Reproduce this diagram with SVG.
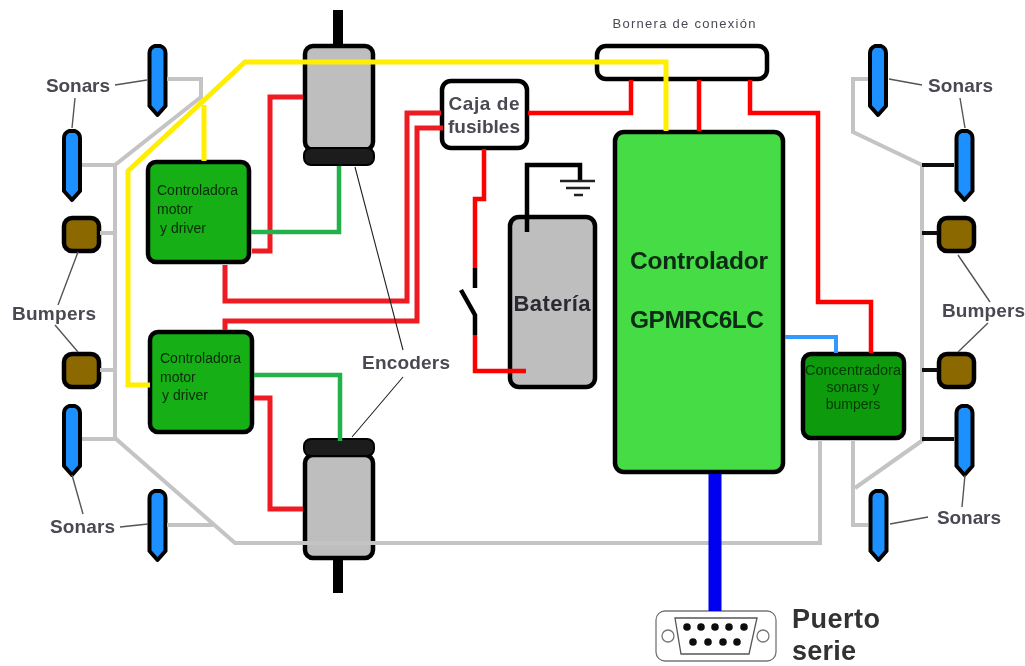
<svg xmlns="http://www.w3.org/2000/svg" width="1025" height="666" viewBox="0 0 1025 666">
<style>
.blk{stroke:#000;stroke-width:4.500;stroke-linejoin:round}
.w{fill:none;stroke-linejoin:miter}
.red{stroke:#ee1c24;stroke-width:5}
.rd2{stroke:#ff0000;stroke-width:4.500}
.yel{stroke:#ffee00;stroke-width:5}
.gry{stroke:#c4c4c4;stroke-width:4}
.grn{stroke:#22b14c;stroke-width:4.500}
.bk{stroke:#0a0a0a;stroke-width:4}
.lead{fill:none;stroke:#555;stroke-width:1.400}
.enc{fill:none;stroke:#222;stroke-width:1.100}
text{font-family:"Liberation Sans",Arial,sans-serif}
.lbl{font-size:19px;font-weight:bold;fill:#4a4a52}
.ctl{font-size:14px;fill:#0a2a0a}
.con{font-size:14px;fill:#043a04}
.big{font-size:24.500px;font-weight:bold;fill:#0d2a12}
.so{fill:#1e90ff}
.bu{fill:#8b6800}
</style>
<defs>
<path id="sonar" d="M-3 0H3Q8 2 8 7V60L0 69L-8 60V7Q-8 2-3 0Z" stroke="#000" stroke-width="4" stroke-linejoin="round"/>
<rect id="bump" width="35" height="33" rx="8" class="blk"/>
<filter id="soft" x="0" y="0" width="100%" height="100%"><feGaussianBlur stdDeviation="0.55"/></filter>
</defs>
<g filter="url(#soft)">
<rect width="1025" height="666" fill="#fff"/>
<g id="sonars">
<g id="sonar-tl1"><use href="#sonar" x="157.500" y="46" class="so"/></g>
<g id="sonar-tl2"><use href="#sonar" x="72" y="131" class="so"/></g>
<g id="sonar-bl1"><use href="#sonar" x="72" y="406" class="so"/></g>
<g id="sonar-bl2"><use href="#sonar" x="157.500" y="491" class="so"/></g>
<g id="sonar-tr1"><use href="#sonar" x="878" y="46" class="so"/></g>
<g id="sonar-tr2"><use href="#sonar" x="964.500" y="131" class="so"/></g>
<g id="sonar-br1"><use href="#sonar" x="964.500" y="406" class="so"/></g>
<g id="sonar-br2"><use href="#sonar" x="878.500" y="491" class="so"/></g>
</g>
<g id="bumpers">
<g id="bumper-l1"><use href="#bump" x="64" y="218" class="bu"/></g>
<g id="bumper-l2"><use href="#bump" x="64" y="354" class="bu"/></g>
<g id="bumper-r1"><use href="#bump" x="939" y="218" class="bu"/></g>
<g id="bumper-r2"><use href="#bump" x="939" y="354" class="bu"/></g>
</g>
<g id="motor-top">
<rect x="333" y="10" width="10" height="36" fill="#000"/>
<rect x="305" y="46" width="68" height="104" rx="8" fill="#bebebe" class="blk"/>
<rect x="304" y="148" width="70" height="17" rx="7" fill="#1a1a1a" stroke="#000" stroke-width="2"/>
</g>
<g id="motor-bottom">
<rect x="333" y="556" width="10" height="37" fill="#000"/>
<rect x="305" y="455" width="68" height="103" rx="8" fill="#bebebe" class="blk"/>
<rect x="304" y="439" width="70" height="17" rx="7" fill="#1a1a1a" stroke="#000" stroke-width="2"/>
</g>
<g id="driver-1">
<rect x="148" y="162" width="101" height="100" rx="8" fill="#14b014" class="blk"/>
<text class="ctl" x="157" y="195" textLength="81" lengthAdjust="spacingAndGlyphs">Controladora</text>
<text class="ctl" x="157" y="214">motor</text>
<text class="ctl" x="160" y="233">y driver</text>
</g>
<g id="driver-2">
<rect x="150" y="332" width="102" height="100" rx="8" fill="#14b014" class="blk"/>
<text class="ctl" x="160" y="363" textLength="81" lengthAdjust="spacingAndGlyphs">Controladora</text>
<text class="ctl" x="160" y="382">motor</text>
<text class="ctl" x="162" y="400">y driver</text>
</g>
<g id="caja">
<rect x="442" y="81" width="85" height="67" rx="9" fill="#fff" class="blk"/>
<text class="lbl" x="484" y="110" text-anchor="middle" textLength="71">Caja de</text>
<text class="lbl" x="484" y="133" text-anchor="middle" textLength="72">fusibles</text>
</g>
<g id="bornera">
<rect x="597" y="46" width="170" height="33" rx="9" fill="#fff" class="blk"/>
<text x="684" y="28" text-anchor="middle" font-size="13" fill="#4a4a52" textLength="143">Bornera de conexión</text>
</g>
<g id="bateria">
<rect x="510" y="217" width="85" height="170" rx="9" fill="#bebebe" class="blk"/>
<text x="552" y="311" text-anchor="middle" textLength="77" font-size="22" font-weight="bold" fill="#2a2a32">Batería</text>
</g>
<g id="controlador">
<rect x="615" y="132" width="168" height="340" rx="9" fill="#44dc44" class="blk"/>
<text class="big" x="699" y="269" text-anchor="middle" textLength="138">Controlador</text>
<text class="big" x="697" y="328" text-anchor="middle" textLength="134">GPMRC6LC</text>
</g>
<g id="concentradora">
<rect x="803" y="354" width="101" height="84" rx="8" fill="#0b9a0b" class="blk"/>
<text class="con" x="853" y="375" text-anchor="middle" textLength="96" lengthAdjust="spacingAndGlyphs">Concentradora</text>
<text class="con" x="853" y="392" text-anchor="middle">sonars y</text>
<text class="con" x="853" y="409" text-anchor="middle">bumpers</text>
</g>
<g id="puerto-serie">
<rect x="656" y="611" width="120" height="50" rx="9" fill="#fff" stroke="#777" stroke-width="1.300"/>
<path d="M675 618H757L749 654H681Z" fill="#fff" stroke="#555" stroke-width="1.300"/>
<circle cx="668" cy="636" r="6" fill="#fff" stroke="#777" stroke-width="1.300"/>
<circle cx="763" cy="636" r="6" fill="#fff" stroke="#777" stroke-width="1.300"/>
<g fill="#111"><circle cx="687" cy="627" r="3.800"/><circle cx="701" cy="627" r="3.800"/><circle cx="715" cy="627" r="3.800"/><circle cx="729" cy="627" r="3.800"/><circle cx="744" cy="627" r="3.800"/><circle cx="693" cy="642" r="3.800"/><circle cx="708" cy="642" r="3.800"/><circle cx="723" cy="642" r="3.800"/><circle cx="737" cy="642" r="3.800"/></g>
<text x="792" y="628" font-size="27" font-weight="bold" fill="#333" textLength="88">Puerto</text>
<text x="792" y="660" font-size="27" font-weight="bold" fill="#333" textLength="64">serie</text>
</g>
<g id="connectors">
<g class="w gry">
<path d="M167 79H201V97L115 165V438L235 543H820V440"/>
<path d="M82 165H115M100 233H115M100 370H115M82 439H115M167 525H213"/>
<path d="M923 440L855 488M868 79H853V132L922 165V440M853 440V525H868"/>
</g>
<g class="w bk"><path d="M922 165H954M922 233H938M922 370H938M922 439H954"/></g>
<g class="w red">
<path d="M303 97H270V251H252"/>
<path d="M225 265V301H407V113H441"/>
<path d="M225 330V321H417V128H443"/>
<path d="M254 398H270V509H303"/>
</g>
<g class="w rd2">
<path d="M528 113H631V80"/>
<path d="M699 80V131"/>
<path d="M750 80V113H818V302H871V353"/>
<path d="M484 149V199H475V268"/>
<path d="M475 335V371H526"/>
</g>
<g class="w grn">
<path d="M251 232H339V166"/>
<path d="M254 375H340V441"/>
</g>
<g class="w yel">
<path d="M666 131V62H245L128 171V385H150"/>
<path d="M204 105V161"/>
</g>
<path class="w" d="M785 337H836V353" stroke="#3399ff" stroke-width="4"/>
<path class="w" d="M715 474V611" stroke="#0000f0" stroke-width="13"/>
<path class="w" d="M475 268V288M461 290L475 315V335" stroke="#000" stroke-width="4.500"/>
<path class="w" d="M527 232V165H580V182" stroke="#000" stroke-width="4.500"/>
<path class="w" d="M560 181H595M566 188H590M574 195H583" stroke="#222" stroke-width="2.500"/>
<path class="lead" d="M115 85L147 80M75 98L72 128M78 252L58 305M55 325L78 352M72 475L83 514M120 527L148 524M889 79L922 85M960 98L965 128M958 255L990 302M988 323L958 352M965 475L962 507M890 524L928 517"/>
<path class="enc" d="M355 167L403 350M403 377L352 437"/>
</g>
<g id="labels">
<text class="lbl" x="46" y="92" textLength="64">Sonars</text>
<text class="lbl" x="50" y="533" textLength="65">Sonars</text>
<text class="lbl" x="928" y="92" textLength="65">Sonars</text>
<text class="lbl" x="937" y="524" textLength="64">Sonars</text>
<text class="lbl" x="12" y="320" textLength="84">Bumpers</text>
<text class="lbl" x="942" y="317" textLength="83">Bumpers</text>
<text class="lbl" x="362" y="369" textLength="88">Encoders</text>
</g>
</g>
</svg>
